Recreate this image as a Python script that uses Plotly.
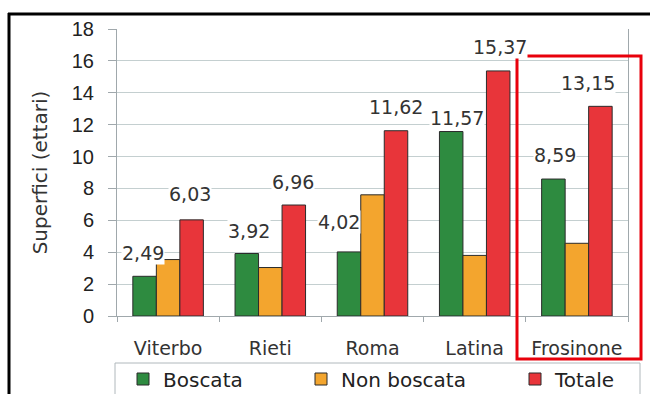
import plotly.graph_objects as go

categories = ["Viterbo", "Rieti", "Roma", "Latina", "Frosinone"]
boscata = [2.49, 3.92, 4.02, 11.57, 8.59]
non_boscata = [3.54, 3.04, 7.60, 3.80, 4.56]
totale = [6.03, 6.96, 11.62, 15.37, 13.15]
y_ticks = [0, 2, 4, 6, 8, 10, 12, 14, 16, 18]

FONT = "DejaVu Sans"
W, H = 650, 394
L, R, T, B = 117, 22, 29, 78

fig = go.Figure()
fig.add_trace(go.Bar(x=categories, y=boscata, name="Boscata",
                     marker=dict(color="#2e8b40", line=dict(color="#2b2b2b", width=1)),
                     legend="legend"))
fig.add_trace(go.Bar(x=categories, y=non_boscata, name="Non boscata",
                     marker=dict(color="#f3a52e", line=dict(color="#2b2b2b", width=1)),
                     legend="legend2"))
fig.add_trace(go.Bar(x=categories, y=totale, name="Totale",
                     marker=dict(color="#e8353a", line=dict(color="#2b2b2b", width=1)),
                     legend="legend3"))

def fmt(v):
    return f"{v:.2f}".replace(".", ",")

# label pixel offsets (style only)
green_dx = [-25, -21, -34, -18, -22]
green_dy = [23, 23, 30, 14, 24]
red_dx = [22, 23, 23, 25, 11]
red_dy = [26, 23, 24, 24, 23]

annotations = []
for i, c in enumerate(categories):
    annotations.append(dict(x=c, y=boscata[i], xref="x", yref="y", text=fmt(boscata[i]),
                            showarrow=False, xshift=green_dx[i], yshift=green_dy[i],
                            bgcolor="white", font=dict(family=FONT, size=19, color="#333333"),
                            borderpad=0))
    annotations.append(dict(x=c, y=totale[i], xref="x", yref="y", text=fmt(totale[i]),
                            showarrow=False, xshift=red_dx[i], yshift=red_dy[i],
                            bgcolor="white", font=dict(family=FONT, size=19, color="#333333"),
                            borderpad=0))

def px_x(p):
    return (p - L) / (W - L - R)

def px_y(p):
    return (H - B - p) / (H - T - B)

shapes = [
    # outer black frame
    dict(type="line", xref="paper", yref="paper", x0=px_x(8), x1=px_x(660), y0=px_y(14), y1=px_y(14),
         line=dict(color="black", width=3)),
    dict(type="line", xref="paper", yref="paper", x0=px_x(9), x1=px_x(9), y0=px_y(13), y1=px_y(400),
         line=dict(color="black", width=3)),
    # legend box
    dict(type="line", xref="paper", yref="paper", x0=px_x(115), x1=px_x(640), y0=px_y(363), y1=px_y(363),
         line=dict(color="#b0b8bc", width=1)),
    dict(type="line", xref="paper", yref="paper", x0=px_x(115), x1=px_x(115), y0=px_y(363), y1=px_y(400),
         line=dict(color="#b0b8bc", width=1)),
    dict(type="line", xref="paper", yref="paper", x0=px_x(640), x1=px_x(640), y0=px_y(363), y1=px_y(400),
         line=dict(color="#b0b8bc", width=1)),
    # red highlight box
    dict(type="rect", xref="paper", yref="paper", x0=px_x(517), x1=px_x(641), y0=px_y(359), y1=px_y(56),
         line=dict(color="#e8000b", width=3)),
]

leg_common = dict(orientation="h", xref="container", yref="container", xanchor="left",
                  yanchor="middle", bgcolor="rgba(0,0,0,0)", borderwidth=0,
                  font=dict(family=FONT, size=20, color="#222222"), itemwidth=30)

fig.update_layout(
    width=W, height=H, autosize=False,
    margin=dict(l=L, r=R, t=T, b=B, autoexpand=False),
    paper_bgcolor="white", plot_bgcolor="white",
    barmode="group", bargap=0.31, bargroupgap=0,
    font=dict(family=FONT, color="#222222"),
    showlegend=True,
    legend=dict(x=123 / W, y=1 - 379 / H, **leg_common),
    legend2=dict(x=301 / W, y=1 - 379 / H, **leg_common),
    legend3=dict(x=515 / W, y=1 - 379 / H, **leg_common),
    annotations=annotations,
    shapes=shapes,
    xaxis=dict(showline=True, linecolor="#a0a8ac", linewidth=1, ticks="outside",
               tickson="boundaries", ticklen=5, tickcolor="#a0a8ac", showgrid=False,
               ticklabelstandoff=15, automargin=False,
               tickfont=dict(family=FONT, size=19, color="#333333")),
    yaxis=dict(range=[0, 18], tickvals=y_ticks, showline=True, mirror=True, linecolor="#a0a8ac",
               linewidth=1, ticks="outside", ticklen=8, tickcolor="#a0a8ac",
               gridcolor="#c4cfd0", gridwidth=1, zeroline=False, ticklabelstandoff=10,
               automargin=False,
               tickfont=dict(family="Liberation Sans", size=20, color="#222222"),
               title=dict(text="Superfici (ettari)", font=dict(family=FONT, size=20, color="#333333"),
                          standoff=18)),
)

fig.write_html("out.html", config={"displayModeBar": False},
               post_script="document.body.style.margin='0px';document.body.style.overflow='hidden';")
